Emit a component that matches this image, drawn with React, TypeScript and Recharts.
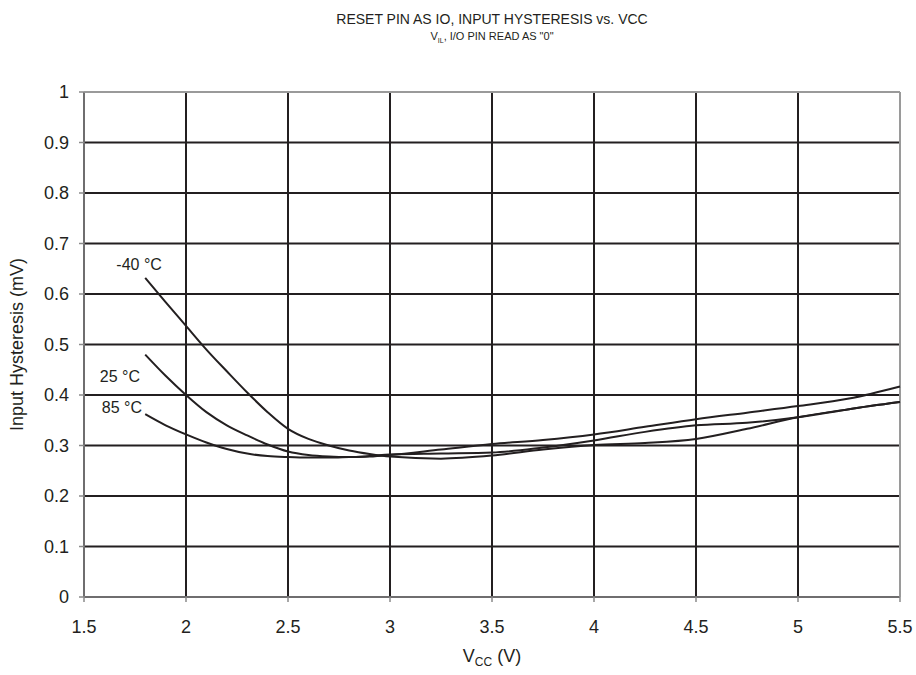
import { CartesianGrid, Line, LineChart, ReferenceDot, ReferenceLine, XAxis, YAxis } from 'recharts'

const vcc = [1.8, 1.9, 2.0, 2.1, 2.2, 2.3, 2.4, 2.5, 2.6, 2.7, 2.8, 2.9, 3.0, 3.25, 3.5, 3.75, 4.0, 4.25, 4.5, 4.75, 5.0, 5.25, 5.5]
const tempM40 = [0.632, 0.584, 0.537, 0.49, 0.447, 0.405, 0.366, 0.333, 0.313, 0.3, 0.29, 0.283, 0.278, 0.274, 0.28, 0.292, 0.301, 0.305, 0.313, 0.333, 0.356, 0.372, 0.386]
const temp25 = [0.48, 0.438, 0.4, 0.366, 0.34, 0.32, 0.302, 0.288, 0.281, 0.278, 0.277, 0.279, 0.282, 0.284, 0.286, 0.296, 0.31, 0.327, 0.34, 0.345, 0.356, 0.372, 0.386]
const temp85 = [0.362, 0.34, 0.322, 0.306, 0.293, 0.284, 0.279, 0.277, 0.276, 0.276, 0.277, 0.278, 0.281, 0.292, 0.303, 0.311, 0.322, 0.337, 0.352, 0.365, 0.378, 0.393, 0.417]

const xTicks = [1.5, 2, 2.5, 3, 3.5, 4, 4.5, 5, 5.5]
const yTicks = [0, 0.1, 0.2, 0.3, 0.4, 0.5, 0.6, 0.7, 0.8, 0.9, 1]

const curveLabels = [
  { name: '-40 °C', x: 1.77, y: 0.659 },
  { name: '25 °C', x: 1.676, y: 0.437 },
  { name: '85 °C', x: 1.686, y: 0.376 },
]

const data = vcc.map((v, i) => ({ v, m40: tempM40[i], t25: temp25[i], t85: temp85[i] }))

const FONT = '"Liberation Sans", Arial, sans-serif'
const INK = '#231f20'

const XLabel = ({ viewBox }: any) => {
  const cx = viewBox.x + viewBox.width / 2
  return (
    <text x={cx} y={662} textAnchor="middle" fontSize={18} fill={INK} fontFamily={FONT}>
      V<tspan fontSize={12} dy={4}>CC</tspan>
      <tspan dy={-4}> (V)</tspan>
    </text>
  )
}

export default function App() {
  return (
    <div style={{ position: 'absolute', left: 0, top: 0, width: 916, height: 675, background: '#fff', fontFamily: FONT }}>
      <div style={{ position: 'absolute', left: 0, width: 984, top: 11, textAlign: 'center', fontSize: 14, color: INK }}>
        RESET PIN AS IO, INPUT HYSTERESIS vs. VCC
      </div>
      <div style={{ position: 'absolute', left: 0, width: 984, top: 30, textAlign: 'center', fontSize: 11, color: INK }}>
        V<sub style={{ fontSize: 7 }}>IL</sub>, I/O PIN READ AS "0"
      </div>
      <LineChart width={916} height={675} data={data} margin={{ top: 92, right: 16, bottom: 0, left: 0 }}>
        <CartesianGrid stroke={INK} strokeWidth={2} />
        <XAxis
          dataKey="v"
          type="number"
          domain={[1.5, 5.5]}
          ticks={xTicks}
          height={78}
          tickSize={5}
          tickMargin={18}
          stroke="#8a8a8a"
          strokeWidth={1.5}
          tick={{ fill: INK, fontSize: 18, fontFamily: FONT }}
          label={<XLabel />}
        />
        <YAxis
          type="number"
          domain={[0, 1]}
          ticks={yTicks}
          width={84}
          tickSize={5}
          tickMargin={10}
          stroke="#8a8a8a"
          strokeWidth={1.5}
          tick={{ fill: INK, fontSize: 18, fontFamily: FONT }}
          label={{ value: 'Input Hysteresis (mV)', angle: -90, position: 'insideLeft', offset: 17, fill: INK, fontSize: 18, fontFamily: FONT, style: { textAnchor: 'middle' } }}
        />
        <ReferenceLine y={1} stroke="#9a9a9a" strokeWidth={2} />
        <ReferenceLine x={5.5} stroke="#9a9a9a" strokeWidth={2} />
        <Line dataKey="m40" type="monotone" stroke={INK} strokeWidth={2} dot={false} isAnimationActive={false} />
        <Line dataKey="t25" type="monotone" stroke={INK} strokeWidth={2} dot={false} isAnimationActive={false} />
        <Line dataKey="t85" type="monotone" stroke={INK} strokeWidth={2} dot={false} isAnimationActive={false} />
        {curveLabels.map((c) => (
          <ReferenceDot
            key={c.name}
            x={c.x}
            y={c.y}
            r={0}
            fill="none"
            stroke="none"
            label={{ value: c.name, position: 'center', fill: INK, fontSize: 16, fontFamily: FONT }}
          />
        ))}
      </LineChart>
    </div>
  )
}
